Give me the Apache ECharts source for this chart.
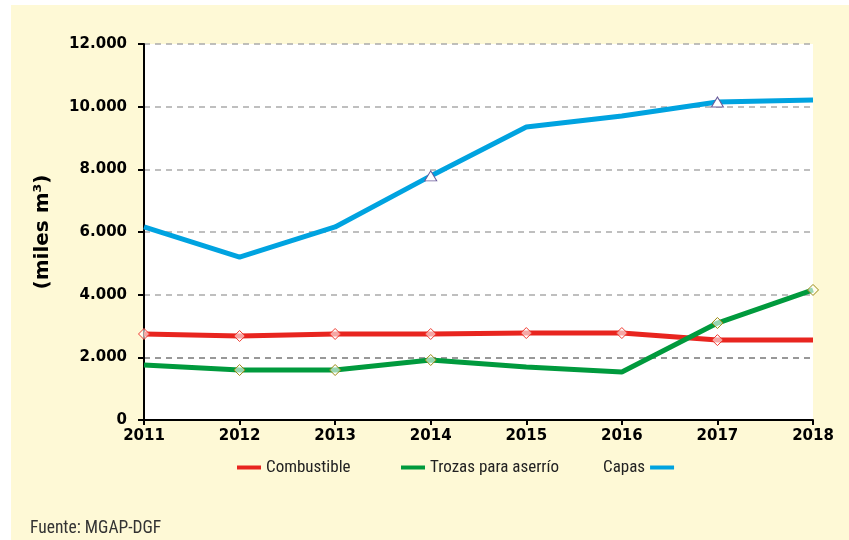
<!DOCTYPE html>
<html><head><meta charset="utf-8">
<script src="https://cdn.jsdelivr.net/npm/echarts@6/dist/echarts.min.js"></script>
<style>html,body{margin:0;padding:0;background:#fff}#c{width:849px;height:540px}</style>
</head><body><div id="c"></div>
<script>
const years = ['2011','2012','2013','2014','2015','2016','2017','2018'];
const combustible = [2745, 2680, 2745, 2745, 2775, 2775, 2550, 2550];
const trozas = [1755, 1595, 1595, 1915, 1690, 1530, 3095, 4150];
const capas = [6160, 5200, 6160, 7790, 9350, 9700, 10150, 10210];
const combustibleMarks = [1,1,1,1,1,1,1,0];
const trozasMarks = [0,1,1,1,0,0,1,1];
const capasMarks = [0,0,0,1,0,0,1,0];

const RED = '#E8251F', GREEN = '#009A3D', BLUE = '#00A3E0';
function withMarks(vals, marks, sym) {
  return vals.map((v, i) => ({ value: v, symbol: marks[i] ? sym : 'none' }));
}
const condensed = '"Liberation Sans Narrow","Arial Narrow","Roboto Condensed",sans-serif';
const boldFont = '"DejaVu Sans", Verdana, sans-serif';
const legendText = { fontFamily: condensed, fontSize: 17, color: '#222' };
const chart = echarts.init(document.getElementById('c'));
chart.setOption({
  backgroundColor: '#ffffff',
  animation: false,
  graphic: [
    { type: 'rect', left: 11, top: 5, shape: { width: 838, height: 535 }, style: { fill: '#FEF9D6' }, z: -10 },
    { type: 'text', left: 30, top: 520, style: { text: 'Fuente: MGAP-DGF', font: '17.5px ' + condensed, fill: '#333' } }
  ],
  grid: { left: 144, right: 36, top: 44, bottom: 120, show: true, backgroundColor: '#ffffff', borderWidth: 0 },
  legend: [
    { data: [{ name: 'Combustible', itemStyle: { color: RED, borderWidth: 0 } }], left: 232, top: 454, itemWidth: 24, itemHeight: 4, icon: 'rect', textStyle: legendText },
    { data: [{ name: 'Trozas para aserrío', itemStyle: { color: GREEN, borderWidth: 0 } }], left: 396, top: 454, itemWidth: 24, itemHeight: 4, icon: 'rect', textStyle: legendText },
    { data: [{ name: 'Capas', itemStyle: { color: BLUE, borderWidth: 0 } }], left: 598, top: 454, align: 'right', itemWidth: 24, itemHeight: 4, icon: 'rect', textStyle: legendText }
  ],
  xAxis: {
    type: 'category', data: years, boundaryGap: false,
    axisLine: { lineStyle: { color: '#000', width: 2 } },
    axisTick: { show: true, length: 5, lineStyle: { color: '#000', width: 2 } },
    axisLabel: { color: '#000', fontWeight: 'bold', fontSize: 15, fontFamily: boldFont, margin: 9 },
    splitLine: { show: false }
  },
  yAxis: {
    type: 'value', min: 0, max: 12000, interval: 2000,
    name: '(miles m³)', nameLocation: 'middle', nameRotate: 90, nameGap: 91,
    nameTextStyle: { color: '#000', fontWeight: 'bold', fontSize: 20, fontFamily: boldFont },
    axisLine: { show: true, lineStyle: { color: '#000', width: 2 } },
    axisTick: { show: true, length: 6, lineStyle: { color: '#000', width: 2 } },
    axisLabel: { color: '#000', fontWeight: 'bold', fontSize: 15, fontFamily: boldFont, margin: 17,
      formatter: v => String(v).replace(/\B(?=(\d{3})+(?!\d))/g, '.') },
    splitLine: { show: true, lineStyle: { type: [6, 5], width: 1.5, color: ['transparent', '#777', '#aaa', '#aaa', '#aaa', '#aaa', '#aaa'] } }
  },
  series: [
    { name: 'Combustible', type: 'line', data: withMarks(combustible, combustibleMarks, 'diamond'),
      lineStyle: { color: RED, width: 5 }, itemStyle: { color: 'rgba(255,255,255,0.6)', borderColor: '#F03A30', borderWidth: 1 },
      color: RED, symbolSize: 11, showSymbol: true, z: 2 },
    { name: 'Trozas para aserrío', type: 'line', data: withMarks(trozas, trozasMarks, 'diamond'),
      lineStyle: { color: GREEN, width: 5 }, itemStyle: { color: 'rgba(255,255,255,0.6)', borderColor: '#9A8A10', borderWidth: 1 },
      color: GREEN, symbolSize: 11, showSymbol: true, z: 3 },
    { name: 'Capas', type: 'line', data: withMarks(capas, capasMarks, 'triangle'),
      lineStyle: { color: BLUE, width: 5 }, itemStyle: { color: '#ffffff', borderColor: '#6A5A9A', borderWidth: 1 },
      color: BLUE, symbolSize: [12, 10], showSymbol: true, z: 4 }
  ]
});
</script></body></html>
